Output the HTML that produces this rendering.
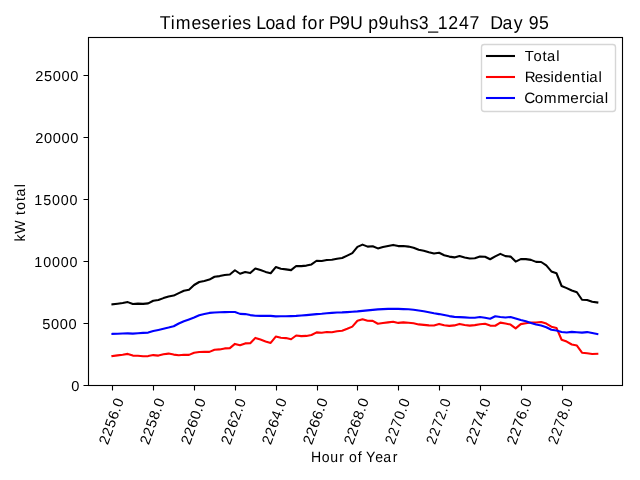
<!DOCTYPE html>
<html lang="en">
<head>
<meta charset="utf-8">
<title>Timeseries Load for P9U p9uhs3_1247 Day 95</title>
<style>
html,body{margin:0;padding:0;background:#ffffff;}
body{width:640px;height:480px;overflow:hidden;font-family:"Liberation Sans",sans-serif;}
svg{display:block;position:absolute;left:0;top:0;}
text{font-family:"Liberation Sans",sans-serif;fill:#000000;white-space:pre;text-rendering:geometricPrecision;}
.sp{fill:none;stroke:#000000;stroke-width:1.11;}
.tk{stroke:#000000;stroke-width:1.11;fill:none;}
.ln{fill:none;stroke-width:2.08;stroke-linejoin:round;stroke-linecap:square;}
</style>
</head>
<body>
<svg width="640" height="480" viewBox="0 0 640 480">
<rect x="0" y="0" width="640" height="480" fill="#ffffff"/>
<g class="ln">
<polyline stroke="#000000" points="112.44,304.40 117.55,303.75 122.65,303.00 127.76,302.10 132.86,304.00 137.96,303.60 143.07,303.90 148.17,303.40 153.28,300.75 158.38,300.00 163.48,298.10 168.59,296.50 173.69,295.60 178.79,293.10 183.90,290.75 189.00,289.75 194.11,285.00 199.21,282.00 204.31,280.90 209.42,279.60 214.52,276.75 219.63,276.10 224.73,275.00 229.83,274.50 234.94,270.25 240.04,273.75 245.15,272.10 250.25,273.10 255.35,268.50 260.46,270.00 265.56,271.90 270.67,273.25 275.77,267.10 280.87,268.75 285.98,269.40 291.08,270.10 296.18,266.00 301.29,266.10 306.39,265.60 311.50,264.40 316.60,260.75 321.70,261.00 326.81,260.00 331.91,259.75 337.02,258.75 342.12,258.00 347.22,255.60 352.33,253.10 357.43,246.90 362.54,244.60 367.64,246.60 372.74,246.25 377.85,248.40 382.95,247.00 388.06,245.90 393.16,244.90 398.26,246.10 403.37,246.00 408.47,246.60 413.58,247.75 418.68,249.75 423.78,250.75 428.89,252.25 433.99,253.50 439.09,252.75 444.20,255.25 449.30,256.60 454.41,257.40 459.51,256.00 464.61,257.40 469.72,258.50 474.82,258.25 479.93,256.60 485.03,256.75 490.13,259.25 495.24,256.40 500.34,253.90 505.45,256.10 510.55,256.60 515.65,261.60 520.76,259.10 525.86,259.10 530.97,259.90 536.07,261.90 541.17,262.00 546.28,265.40 551.38,271.40 556.48,273.25 561.59,286.00 566.69,288.10 571.80,290.50 576.90,292.25 582.00,299.75 587.11,300.00 592.21,301.75 597.32,302.50"/>
<polyline stroke="#ff0000" points="112.44,356.00 117.55,355.40 122.65,354.75 127.76,353.90 132.86,355.60 137.96,355.75 143.07,356.25 148.17,356.10 153.28,355.10 158.38,355.60 163.48,354.25 168.59,353.60 173.69,354.60 178.79,355.25 183.90,354.75 189.00,354.90 194.11,352.75 199.21,352.00 204.31,351.90 209.42,351.90 214.52,349.75 219.63,349.40 224.73,348.40 229.83,348.10 234.94,343.90 240.04,345.25 245.15,343.40 250.25,343.25 255.35,337.90 260.46,339.60 265.56,341.40 270.67,342.90 275.77,336.60 280.87,337.75 285.98,338.10 291.08,339.25 296.18,335.50 301.29,336.10 306.39,335.90 311.50,335.00 316.60,332.40 321.70,332.75 326.81,332.00 331.91,332.25 337.02,331.25 342.12,330.70 347.22,328.75 352.33,326.60 357.43,320.75 362.54,319.25 367.64,320.75 372.74,320.90 377.85,323.75 382.95,323.00 388.06,322.40 393.16,321.75 398.26,322.90 403.37,322.40 408.47,322.75 413.58,323.25 418.68,324.40 423.78,324.90 428.89,325.40 433.99,325.50 439.09,323.90 444.20,325.25 449.30,325.90 454.41,325.40 459.51,323.90 464.61,325.00 469.72,325.60 474.82,325.10 479.93,324.25 485.03,323.75 490.13,325.60 495.24,325.75 500.34,322.60 505.45,323.45 510.55,324.60 515.65,328.40 520.76,324.10 525.86,323.25 530.97,322.50 536.07,322.50 541.17,322.00 546.28,323.60 551.38,326.70 556.48,327.95 561.59,339.75 566.69,341.60 571.80,344.50 576.90,345.55 582.00,352.70 587.11,353.25 592.21,354.00 597.32,353.75"/>
<polyline stroke="#0000ff" points="112.44,333.90 117.55,333.75 122.65,333.50 127.76,333.40 132.86,333.60 137.96,333.25 143.07,332.90 148.17,332.60 153.28,331.00 158.38,329.90 163.48,328.75 168.59,327.60 173.69,326.25 178.79,323.50 183.90,321.25 189.00,319.40 194.11,317.50 199.21,315.25 204.31,314.00 209.42,312.90 214.52,312.50 219.63,312.25 224.73,312.10 229.83,312.00 234.94,312.00 240.04,313.90 245.15,314.10 250.25,315.10 255.35,315.75 260.46,315.90 265.56,315.90 270.67,315.90 275.77,316.40 280.87,316.25 285.98,316.25 291.08,316.10 296.18,315.90 301.29,315.50 306.39,315.10 311.50,314.60 316.60,314.10 321.70,313.75 326.81,313.25 331.91,312.90 337.02,312.50 342.12,312.40 347.22,312.10 352.33,311.75 357.43,311.40 362.54,310.90 367.64,310.40 372.74,309.90 377.85,309.40 382.95,309.10 388.06,308.90 393.16,308.75 398.26,308.90 403.37,309.10 408.47,309.25 413.58,309.75 418.68,310.50 423.78,311.30 428.89,312.25 433.99,313.25 439.09,314.10 444.20,315.10 449.30,316.10 454.41,316.90 459.51,317.10 464.61,317.40 469.72,317.75 474.82,317.75 479.93,317.00 485.03,317.75 490.13,318.75 495.24,316.25 500.34,317.00 505.45,317.55 510.55,317.00 515.65,318.60 520.76,320.10 525.86,321.25 530.97,322.90 536.07,324.60 541.17,325.50 546.28,327.20 551.38,329.75 556.48,330.45 561.59,331.95 566.69,332.55 571.80,331.90 576.90,332.30 582.00,332.60 587.11,332.10 592.21,333.10 597.32,334.00"/>
</g>
<path class="tk" d="M112.5 385.5v5 M153.5 385.5v5 M194.5 385.5v5 M235.5 385.5v5 M276.5 385.5v5 M317.5 385.5v5 M357.5 385.5v5 M398.5 385.5v5 M439.5 385.5v5 M480.5 385.5v5 M521.5 385.5v5 M562.5 385.5v5 M88.5 385.5h-5 M88.5 323.5h-5 M88.5 261.5h-5 M88.5 199.5h-5 M88.5 137.5h-5 M88.5 75.5h-5"/>
<rect class="sp" x="88.5" y="37.5" width="534.0" height="348.0"/>
<rect x="481.50" y="44.50" width="134.00" height="67.00" rx="2.8" ry="2.8" fill="#ffffff" fill-opacity="0.8" stroke="#cccccc" stroke-opacity="0.8" stroke-width="1.39"/>
<line x1="487.00" y1="56.00" x2="513.96" y2="56.00" stroke="#000000" stroke-width="2.08" stroke-linecap="square"/>
<line x1="487.00" y1="77.00" x2="513.96" y2="77.00" stroke="#ff0000" stroke-width="2.08" stroke-linecap="square"/>
<line x1="487.00" y1="98.00" x2="513.96" y2="98.00" stroke="#0000ff" stroke-width="2.08" stroke-linecap="square"/>
<g style="filter:grayscale(1)">
<text transform="translate(160.07 29.10) scale(0.9500 1)" font-size="18.65" x="-0.33 11.16 16.48 33.01 43.58 53.01 64.39 71.16 75.90 86.48 95.66 101.24 111.11 121.10 132.52 143.29 149.54 155.19 166.49 172.90 177.78 189.42 199.82 213.03 219.04 229.94 241.00 252.10 262.80 272.39 282.40 292.27 303.32 314.73 325.75 336.45 341.98 347.55 360.58 372.24 382.11 387.97 399.01" y="0">Timeseries Load for P9U p9uhs3_1247  Day 95</text>
<text transform="translate(24.50 242.07) rotate(-90) scale(0.9628 1)" font-size="14.72" x="0.62 8.62 22.72 28.01 33.30 42.55 47.31 56.84" y="0">kW total</text>
<text transform="translate(34.97 80.58) scale(1.0148 1)" font-size="14.43" x="0.16 8.91 17.58 26.21 34.83" y="0">25000</text>
<text transform="translate(34.97 142.57) scale(1.0148 1)" font-size="14.43" x="0.16 8.96 17.58 26.21 34.83" y="0">20000</text>
<text transform="translate(33.97 204.57) scale(0.9945 1)" font-size="14.43" x="0.36 9.30 18.15 26.95 35.75" y="0">15000</text>
<text transform="translate(33.85 266.57) scale(0.9945 1)" font-size="14.43" x="0.36 9.35 18.15 26.95 35.75" y="0">10000</text>
<text transform="translate(41.95 328.57) scale(1.0148 1)" font-size="14.43" x="0.29 8.96 17.58 26.21" y="0">5000</text>
<text transform="translate(70.90 390.57) scale(1.0148 1)" font-size="14.43" x="0.34" y="0">0</text>
<text transform="translate(524.88 60.55) scale(1.0029 1)" font-size="14.72" x="-0.26 8.59 17.55 22.03 31.29" y="0">Total</text>
<text transform="translate(525.05 81.55) scale(1.0022 1)" font-size="15.02" x="-0.39 9.72 18.04 25.46 29.21 38.03 46.64 55.72 60.88 64.02 73.35" y="0">Residential</text>
<text transform="translate(524.98 102.55) scale(1.0226 1)" font-size="15.02" x="-0.76 9.52 18.24 31.45 44.28 53.10 58.00 65.87 68.89 78.09" y="0">Commercial</text>
<text transform="translate(107.64 445.55) rotate(-70) scale(1.0148 1)" font-size="14.43" x="0.16 8.78 17.53 26.21 34.78 39.26" y="0">2256.0</text>
<text transform="translate(148.60 445.55) rotate(-70) scale(1.0148 1)" font-size="14.43" x="0.16 8.78 17.53 26.21 34.78 39.26" y="0">2258.0</text>
<text transform="translate(189.68 445.55) rotate(-70) scale(1.0351 1)" font-size="14.43" x="0.08 8.53 17.16 25.73 34.06 38.42" y="0">2260.0</text>
<text transform="translate(229.89 445.68) rotate(-70) scale(0.9746 1)" font-size="14.72" x="0.25 9.23 18.39 27.31 36.25 40.97" y="0">2262.0</text>
<text transform="translate(270.59 445.55) rotate(-70) scale(1.0149 1)" font-size="14.43" x="0.16 8.78 17.58 26.33 34.77 39.26" y="0">2264.0</text>
<text transform="translate(311.68 445.43) rotate(-70) scale(1.0416 1)" font-size="14.43" x="0.05 8.45 17.03 25.55 33.95 38.27" y="0">2266.0</text>
<text transform="translate(352.63 445.55) rotate(-70) scale(1.0258 1)" font-size="14.43" x="0.11 8.64 17.35 26.00 34.51 38.92" y="0">2268.0</text>
<text transform="translate(393.84 445.55) rotate(-70) scale(0.9547 1)" font-size="14.72" x="0.34 9.50 18.83 28.03 36.92 41.77" y="0">2270.0</text>
<text transform="translate(434.79 445.55) rotate(-70) scale(0.9529 1)" font-size="14.43" x="0.43 9.61 18.96 27.98 37.03 41.94" y="0">2272.0</text>
<text transform="translate(474.63 445.55) rotate(-70) scale(1.0148 1)" font-size="14.43" x="0.16 8.78 17.56 26.21 34.66 39.14" y="0">2274.0</text>
<text transform="translate(515.58 445.55) rotate(-70) scale(0.9945 1)" font-size="14.72" x="0.16 8.96 17.92 26.74 35.49 40.07" y="0">2276.0</text>
<text transform="translate(556.79 445.55) rotate(-70) scale(0.9547 1)" font-size="14.72" x="0.34 9.50 18.83 28.03 37.05 41.91" y="0">2278.0</text>
<text transform="translate(310.95 461.57) scale(0.9374 1)" font-size="15.02" x="0.14 11.43 20.62 30.32 35.61 40.63 50.06 54.67 58.86 68.67 77.15 87.37" y="0">Hour of Year</text>
</g>
</svg>
</body>
</html>
